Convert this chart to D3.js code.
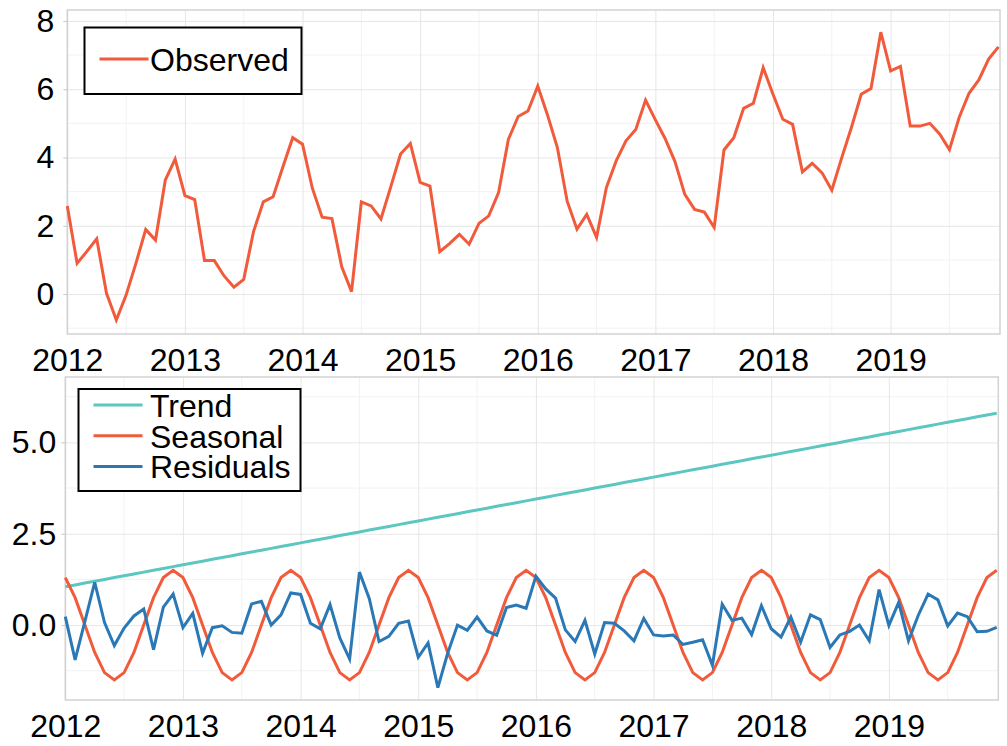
<!DOCTYPE html>
<html>
<head>
<meta charset="utf-8">
<script src="https://cdn.jsdelivr.net/npm/d3@7"></script>
<style>
  body { margin: 0; background: #fff; }
  svg { display: block; font-family: "Liberation Sans", Arial, sans-serif; }
  .tick text { fill: #000; }
</style>
</head>
<body>
<svg id="chart" width="1007" height="746"></svg>
<script>
'use strict';

// monthly series, Jan 2012 .. Dec 2019
const startYear = 2012;
const yearTicks = [2012, 2013, 2014, 2015, 2016, 2017, 2018, 2019];

const observed = [
  2.58, 0.90, 1.25, 1.62, 0.02, -0.76, -0.03, 0.90, 1.89, 1.58, 3.34, 3.95,
  2.88, 2.77, 0.98, 0.98, 0.53, 0.20, 0.43, 1.83, 2.70, 2.85, 3.73, 4.58,
  4.39, 3.10, 2.25, 2.21, 0.80, 0.07, 2.70, 2.58, 2.20, 3.14, 4.10, 4.41,
  3.27, 3.16, 1.24, 1.48, 1.75, 1.46, 2.07, 2.29, 2.97, 4.53, 5.20, 5.36,
  6.09, 5.24, 4.29, 2.72, 1.90, 2.33, 1.66, 3.12, 3.90, 4.49, 4.82, 5.68,
  5.10, 4.55, 3.88, 2.92, 2.48, 2.40, 1.95, 4.22, 4.58, 5.44, 5.59, 6.63,
  5.85, 5.12, 4.97, 3.58, 3.83, 3.55, 3.04, 3.98, 4.88, 5.85, 6.02, 7.67,
  6.54, 6.67, 4.92, 4.92, 5.00, 4.69, 4.23, 5.18, 5.88, 6.27, 6.88, 7.24
];

const trend = [
  1.05, 1.10, 1.15, 1.20, 1.25, 1.30, 1.35, 1.40, 1.45, 1.50, 1.55, 1.60,
  1.65, 1.70, 1.75, 1.80, 1.85, 1.90, 1.95, 2.00, 2.05, 2.10, 2.15, 2.20,
  2.25, 2.30, 2.35, 2.40, 2.45, 2.50, 2.55, 2.60, 2.65, 2.70, 2.75, 2.80,
  2.85, 2.90, 2.95, 3.00, 3.05, 3.10, 3.15, 3.20, 3.25, 3.30, 3.35, 3.40,
  3.45, 3.50, 3.55, 3.60, 3.65, 3.70, 3.75, 3.80, 3.85, 3.90, 3.95, 4.00,
  4.05, 4.10, 4.15, 4.20, 4.25, 4.30, 4.35, 4.40, 4.45, 4.50, 4.55, 4.60,
  4.65, 4.70, 4.75, 4.80, 4.85, 4.90, 4.95, 5.00, 5.05, 5.10, 5.15, 5.20,
  5.25, 5.30, 5.35, 5.40, 5.45, 5.50, 5.55, 5.60, 5.65, 5.70, 5.75, 5.80
];

const seasonal = [
  1.30, 0.75, 0.00, -0.75, -1.30, -1.50, -1.30, -0.75, 0.00, 0.75, 1.30, 1.50,
  1.30, 0.75, 0.00, -0.75, -1.30, -1.50, -1.30, -0.75, 0.00, 0.75, 1.30, 1.50,
  1.30, 0.75, 0.00, -0.75, -1.30, -1.50, -1.30, -0.75, 0.00, 0.75, 1.30, 1.50,
  1.30, 0.75, 0.00, -0.75, -1.30, -1.50, -1.30, -0.75, 0.00, 0.75, 1.30, 1.50,
  1.30, 0.75, 0.00, -0.75, -1.30, -1.50, -1.30, -0.75, 0.00, 0.75, 1.30, 1.50,
  1.30, 0.75, 0.00, -0.75, -1.30, -1.50, -1.30, -0.75, 0.00, 0.75, 1.30, 1.50,
  1.30, 0.75, 0.00, -0.75, -1.30, -1.50, -1.30, -0.75, 0.00, 0.75, 1.30, 1.50,
  1.30, 0.75, 0.00, -0.75, -1.30, -1.50, -1.30, -0.75, 0.00, 0.75, 1.30, 1.50
];

const residuals = [
  0.23, -0.95, 0.10, 1.17, 0.07, -0.56, -0.08, 0.25, 0.44, -0.67, 0.49, 0.85,
  -0.07, 0.32, -0.77, -0.07, -0.02, -0.20, -0.22, 0.58, 0.65, 0.00, 0.28, 0.88,
  0.84, 0.05, -0.10, 0.56, -0.35, -0.93, 1.45, 0.73, -0.45, -0.31, 0.05, 0.11,
  -0.88, -0.49, -1.71, -0.77, 0.00, -0.14, 0.22, -0.16, -0.28, 0.48, 0.55, 0.46,
  1.34, 0.99, 0.74, -0.13, -0.45, 0.13, -0.79, 0.07, 0.05, -0.16, -0.43, 0.18,
  -0.27, -0.30, -0.27, -0.53, -0.47, -0.40, -1.10, 0.57, 0.13, 0.19, -0.26, 0.53,
  -0.10, -0.33, 0.22, -0.47, 0.28, 0.15, -0.61, -0.27, -0.17, 0.00, -0.43, 0.97,
  -0.01, 0.62, -0.43, 0.27, 0.85, 0.69, -0.02, 0.33, 0.23, -0.18, -0.17, -0.06
];

const topTicks = [0, 2, 4, 6, 8];
const topMinor = [-1, 1, 3, 5, 7];
const bottomTicks = [0, 2.5, 5.0];
const bottomMinor = [-1.25, 1.25, 3.75, 6.25];

const colors = {
  red: "#f15a3b",
  teal: "#5cc6c1",
  blue: "#2a78b6"
};

const svg = d3.select("#chart");
const fontSize = 32;

function drawPanel(opts) {
  const x = d3.scaleLinear()
    .domain([startYear, 2019.93])
    .range([opts.left, opts.right]);
  const y = d3.scaleLinear()
    .domain(opts.ydomain)
    .range([opts.bottom, opts.top]);
  const h = opts.bottom - opts.top;
  const w = opts.right - opts.left;

  const g = svg.append("g");

  // minor grid
  g.append("g")
    .selectAll("line.hminor")
    .data(opts.minor)
    .enter().append("line")
      .attr("x1", opts.left).attr("x2", opts.right)
      .attr("y1", d => y(d)).attr("y2", d => y(d))
      .attr("stroke", "#f2f2f2");
  g.append("g")
    .selectAll("line.vminor")
    .data(yearTicks.map(d => d + 0.5))
    .enter().append("line")
      .attr("y1", opts.top).attr("y2", opts.bottom)
      .attr("x1", d => x(d)).attr("x2", d => x(d))
      .attr("stroke", "#f2f2f2");

  // major grid
  g.append("g")
    .attr("transform", `translate(${opts.left},0)`)
    .call(d3.axisLeft(y).tickValues(opts.ticks).tickSize(-w).tickFormat(""))
    .call(s => s.select(".domain").remove())
    .call(s => s.selectAll("line").attr("stroke", "#e6e6e6"));
  g.append("g")
    .attr("transform", `translate(0,${opts.bottom})`)
    .call(d3.axisBottom(x).tickValues(yearTicks).tickSize(-h).tickFormat(""))
    .call(s => s.select(".domain").remove())
    .call(s => s.selectAll("line").attr("stroke", "#e6e6e6"));

  // frame
  g.append("rect")
    .attr("x", opts.left).attr("y", opts.top)
    .attr("width", w).attr("height", h)
    .attr("fill", "none")
    .attr("stroke", "#d2d2d2")
    .attr("stroke-width", 1.5);

  // axes with labels
  g.append("g")
    .attr("transform", `translate(${opts.left},0)`)
    .call(d3.axisLeft(y).tickValues(opts.ticks).tickSize(4)
      .tickPadding(opts.ypad).tickFormat(opts.yformat))
    .call(s => s.select(".domain").remove())
    .call(s => s.selectAll("line").attr("stroke", "#c8c8c8"))
    .call(s => s.selectAll("text").attr("font-size", fontSize).attr("font-family", null));
  g.append("g")
    .attr("transform", `translate(0,${opts.bottom})`)
    .call(d3.axisBottom(x).tickValues(yearTicks).tickSize(0)
      .tickPadding(14).tickFormat(d3.format("d")))
    .call(s => s.select(".domain").remove())
    .call(s => s.selectAll("text").attr("font-size", fontSize).attr("font-family", null));

  const line = d3.line()
    .x((d, i) => x(startYear + i / 12))
    .y(d => y(d));

  opts.series.forEach(function (s) {
    g.append("path")
      .datum(s.values)
      .attr("d", line)
      .attr("fill", "none")
      .attr("stroke", s.color)
      .attr("stroke-width", 3);
  });

  // legend
  const lg = opts.legend;
  g.append("rect")
    .attr("x", lg.x).attr("y", lg.y)
    .attr("width", lg.w).attr("height", lg.h)
    .attr("fill", "#fff")
    .attr("stroke", "#000")
    .attr("stroke-width", 2);
  const item = g.selectAll(".legitem")
    .data(opts.series)
    .enter().append("g")
      .attr("class", "legitem")
      .attr("transform", (d, i) => `translate(0, ${lg.firstRow + i * lg.rowH})`);
  item.append("line")
    .attr("x1", lg.x + 15).attr("x2", lg.x + 64)
    .attr("stroke", d => d.color)
    .attr("stroke-width", 3);
  item.append("text")
    .attr("x", 150)
    .attr("y", 12)
    .attr("font-size", fontSize)
    .text(d => d.name);
}

drawPanel({
  left: 67.3, right: 1000, top: 10, bottom: 334,
  ydomain: [-1.17, 8.32],
  ticks: topTicks, minor: topMinor,
  yformat: d3.format("d"), ypad: 9,
  series: [{ name: "Observed", values: observed, color: colors.red }],
  legend: { x: 84.5, y: 27.5, w: 217, h: 66.5, firstRow: 59, rowH: 30.7 }
});

drawPanel({
  left: 65.3, right: 998.3, top: 377, bottom: 700,
  ydomain: [-2.05, 6.79],
  ticks: bottomTicks, minor: bottomMinor,
  yformat: d3.format(".1f"), ypad: 5,
  series: [
    { name: "Trend", values: trend, color: colors.teal },
    { name: "Seasonal", values: seasonal, color: colors.red },
    { name: "Residuals", values: residuals, color: colors.blue }
  ],
  legend: { x: 78.5, y: 389, w: 222, h: 102, firstRow: 405, rowH: 30.7 }
});
</script>
</body>
</html>
